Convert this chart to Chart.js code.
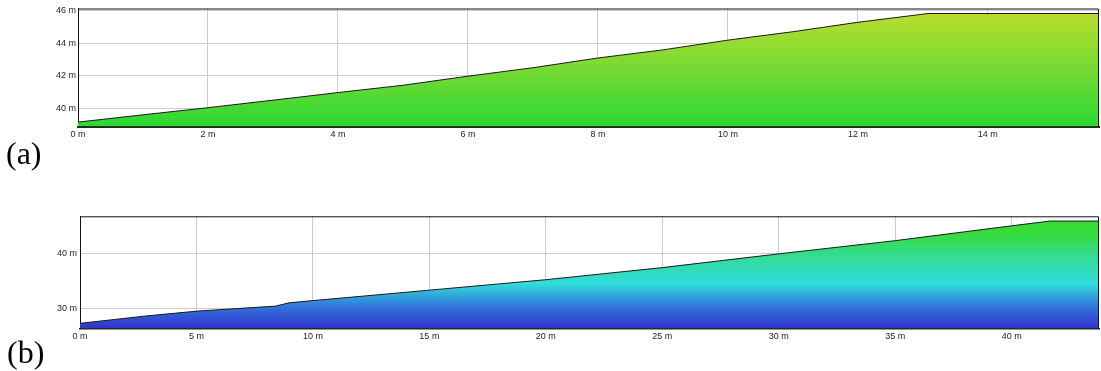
<!DOCTYPE html>
<html>
<head>
<meta charset="utf-8">
<script src="https://cdn.jsdelivr.net/npm/chart.js@4/dist/chart.umd.min.js"></script>
<style>
  html,body{margin:0;padding:0;background:#fff;width:1101px;height:371px;overflow:hidden;}
  canvas{position:absolute;left:0;}
  .lab{position:absolute;font-family:"Liberation Serif","Times New Roman",serif;font-size:32px;line-height:32px;color:#000;}
</style>
</head>
<body>
<canvas id="ca" width="1101" height="145" style="top:0px"></canvas>
<canvas id="cb" width="1101" height="145" style="top:200px"></canvas>
<div class="lab" style="left:6px;top:137px">(a)</div>
<div class="lab" style="left:7px;top:336px">(b)</div>
<script>
// ---- data (a) ----
const distA = [0, 1, 2, 3, 4, 5, 6, 7, 8, 9, 10, 11, 12, 13.08, 15.71];
const elevA = [39.15, 39.6, 40.04, 40.5, 40.97, 41.42, 41.98, 42.5, 43.1, 43.6, 44.2, 44.72, 45.3, 45.84, 45.84];
const xTicksA = [0, 2, 4, 6, 8, 10, 12, 14];
const yTicksA = [40, 42, 44, 46];
// ---- data (b) ----
const distB = [0, 2.82, 5.06, 8.4, 8.97, 10, 15, 20, 25, 30, 35, 40, 41.64, 43.75];
const elevB = [27.27, 28.6, 29.5, 30.4, 31.0, 31.4, 33.3, 35.2, 37.4, 39.9, 42.3, 45.0, 45.86, 45.86];
const xTicksB = [0, 5, 10, 15, 20, 25, 30, 35, 40];
const yTicksB = [30, 40];

const tickFont = {family: '"Liberation Sans", Arial, sans-serif', size: 9};

const frame = {
  id: 'frame',
  afterDraw(chart) {
    const {ctx, chartArea: a} = chart;
    ctx.save();
    ctx.strokeStyle = '#111';
    ctx.lineWidth = 1;
    ctx.beginPath();
    ctx.moveTo(a.left, a.top + 0.5);
    ctx.lineTo(a.right - 0.5, a.top + 0.5);
    ctx.lineTo(a.right - 0.5, a.bottom);
    ctx.stroke();
    ctx.restore();
  }
};

function makeChart(id, xs, ys, xT, yT, ranges, stops, geo) {
  const data = xs.map((x, i) => ({x: x, y: ys[i]}));
  return new Chart(document.getElementById(id), {
    type: 'line',
    data: {
      datasets: [{
        data: data,
        borderColor: '#1a1a1a',
        borderWidth: 1,
        pointRadius: 0,
        tension: 0,
        fill: 'start',
        backgroundColor(ctx) {
          const ch = ctx.chart, a = ch.chartArea;
          if (!a) return stops[0][1];
          const g = ch.ctx.createLinearGradient(0, a.top, 0, a.bottom);
          stops.forEach(s => g.addColorStop(s[0], s[1]));
          return g;
        }
      }]
    },
    options: {
      responsive: false,
      animation: false,
      events: [],
      layout: {padding: {top: geo.top, right: geo.right, left: 0, bottom: 0}},
      plugins: {legend: {display: false}, tooltip: {enabled: false}},
      scales: {
        x: {
          type: 'linear',
          min: ranges.xmin, max: ranges.xmax,
          afterBuildTicks(s) { s.ticks = xT.map(v => ({value: v})); },
          afterFit(s) { s.height = geo.xh; },
          grid: {color: '#cccccc', lineWidth: 1, drawTicks: false},
          border: {color: '#1b2a1b', width: geo.xb},
          ticks: {font: tickFont, color: '#222', padding: geo.xpad, maxRotation: 0, autoSkip: false,
                  callback: v => v + ' m'}
        },
        y: {
          type: 'linear',
          min: ranges.ymin, max: ranges.ymax,
          afterBuildTicks(s) { s.ticks = yT.map(v => ({value: v})); },
          afterFit(s) { s.width = geo.yw; },
          grid: {color: '#cccccc', lineWidth: 1, drawTicks: false},
          border: {color: '#111', width: 1},
          ticks: {font: tickFont, color: '#222', padding: geo.ypad, autoSkip: false,
                  callback: v => v + ' m'}
        }
      }
    },
    plugins: [frame]
  });
}

makeChart('ca', distA, elevA, xTicksA, yTicksA,
  {xmin: 0, xmax: 15.71, ymin: 38.88, ymax: 46.15},
  [[0, '#bcde2e'], [0.5, '#78da32'], [1, '#2cd833']],
  {top: 8.5, right: 2, xh: 18.5, yw: 78, xb: 2, xpad: 3, ypad: 2});

makeChart('cb', distB, elevB, xTicksB, yTicksB,
  {xmin: 0, xmax: 43.75, ymin: 26.33, ymax: 46.73},
  [[0, '#36dd30'], [0.15, '#35dc3a'], [0.35, '#33dc90'], [0.6, '#30dcdc'], [0.8, '#3278dc'], [1, '#3030cc']],
  {top: 16.3, right: 2, xh: 16.5, yw: 80, xb: 1.5, xpad: 3, ypad: 3});
</script>
</body>
</html>
